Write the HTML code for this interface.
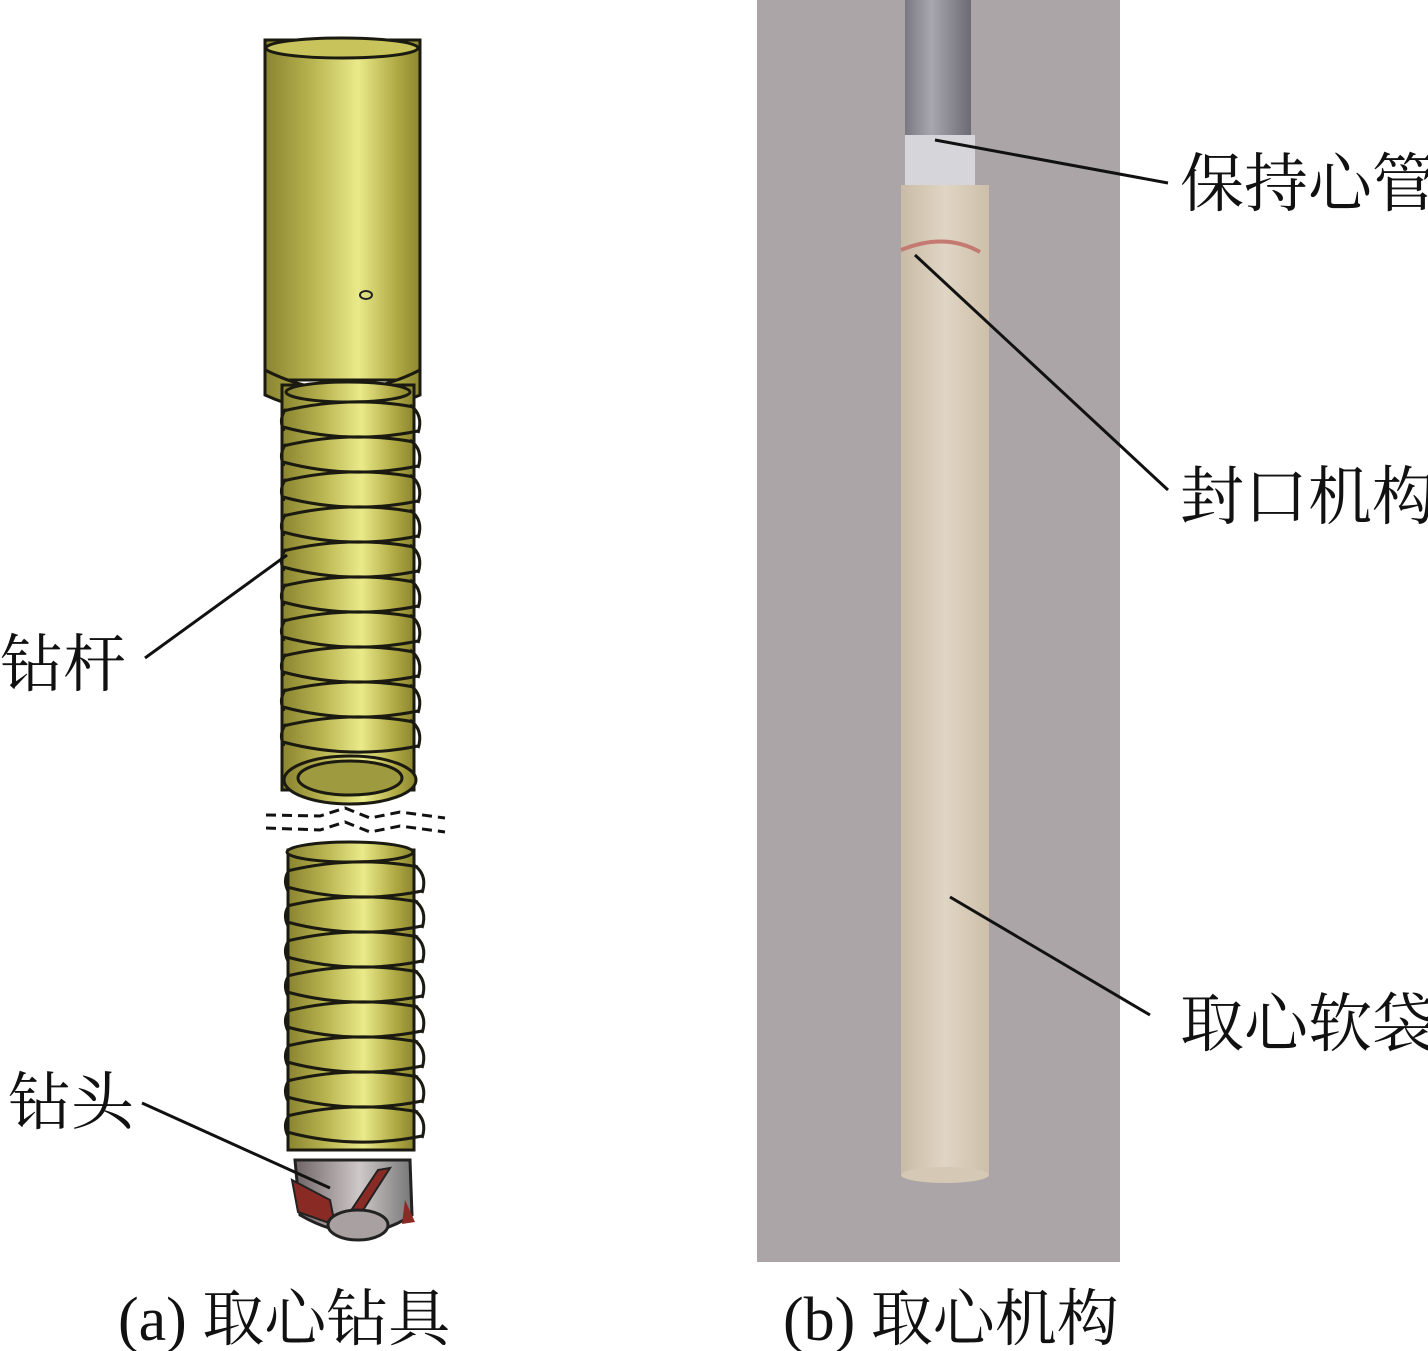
<!DOCTYPE html>
<html><head><meta charset="utf-8"><style>
html,body{margin:0;padding:0;background:#fff;}
svg{display:block}
text{font-family:"Liberation Serif","Noto Serif CJK SC",serif;fill:#111}
</style></head><body>
<svg width="1428" height="1351" viewBox="0 0 1428 1351" xmlns="http://www.w3.org/2000/svg">
<defs>
<linearGradient id="y" x1="0" x2="1" y1="0" y2="0">
<stop offset="0" stop-color="#8a8430"/><stop offset="0.3" stop-color="#b8b450"/><stop offset="0.6" stop-color="#eaea8a"/><stop offset="0.85" stop-color="#b0aa44"/><stop offset="1" stop-color="#8c8630"/>
</linearGradient>
<linearGradient id="g" x1="0" x2="1"><stop offset="0" stop-color="#6e6466"/><stop offset="0.55" stop-color="#cfc8c8"/><stop offset="1" stop-color="#777"/></linearGradient>
<linearGradient id="tube" x1="0" x2="1"><stop offset="0" stop-color="#c9bba6"/><stop offset="0.5" stop-color="#e0d5c4"/><stop offset="1" stop-color="#cdbfa9"/></linearGradient>
<linearGradient id="rod" x1="0" x2="1"><stop offset="0" stop-color="#7a7880"/><stop offset="0.4" stop-color="#a8a6ae"/><stop offset="1" stop-color="#6c6a72"/></linearGradient>
<g id="th" fill="none" stroke="#1a1a10" stroke-width="3">
<path d="M283 -4 Q350 -20 414 -8"/>
<path d="M283 12 Q350 30 418 16"/>
<path d="M410 -10 q14 10 8 28" />
<path d="M286 -6 q-8 10 -2 22"/>
</g>
</defs>
<rect x="265" y="40" width="155" height="340" fill="url(#y)" stroke="#1a1a10" stroke-width="3"/>
<ellipse cx="342" cy="48" rx="76" ry="10" fill="#c8c35a" stroke="#1a1a10" stroke-width="3"/>
<ellipse cx="366" cy="295" rx="6" ry="4" fill="none" stroke="#222" stroke-width="2"/>
<path d="M265 370 Q342 410 420 370 L420 395 Q342 430 265 395 Z" fill="url(#y)" stroke="#1a1a10" stroke-width="3"/>
<rect x="282" y="385" width="132" height="405" fill="url(#y)" stroke="#1a1a10" stroke-width="3"/>
<ellipse cx="348" cy="392" rx="62" ry="10" fill="url(#y)" stroke="#1a1a10" stroke-width="3"/>
<use href="#th" y="415"/><use href="#th" y="450"/><use href="#th" y="485"/><use href="#th" y="520"/><use href="#th" y="555"/><use href="#th" y="590"/><use href="#th" y="625"/><use href="#th" y="660"/><use href="#th" y="695"/><use href="#th" y="730"/>
<ellipse cx="350" cy="780" rx="66" ry="24" fill="url(#y)" stroke="#1a1a10" stroke-width="3"/>
<ellipse cx="350" cy="778" rx="52" ry="17" fill="#9e9a40" stroke="#1a1a10" stroke-width="3"/>
<g stroke="#111" stroke-width="3" stroke-dasharray="10 6" fill="none">
<path d="M266 815 L320 816 L345 808 L370 818 L400 812 L445 818"/>
<path d="M266 828 L320 830 L345 822 L370 832 L400 826 L445 832"/>
</g>
<rect x="288" y="850" width="126" height="300" fill="url(#y)" stroke="#1a1a10" stroke-width="3"/>
<ellipse cx="350" cy="852" rx="63" ry="10" fill="url(#y)" stroke="#1a1a10" stroke-width="3"/>
<use href="#th" x="4" y="875"/><use href="#th" x="4" y="910"/><use href="#th" x="4" y="945"/><use href="#th" x="4" y="980"/><use href="#th" x="4" y="1015"/><use href="#th" x="4" y="1050"/><use href="#th" x="4" y="1085"/><use href="#th" x="4" y="1120"/>
<path d="M295 1160 L410 1160 L412 1215 Q360 1250 300 1215 Z" fill="url(#g)" stroke="#222" stroke-width="3"/>
<path d="M292 1180 L330 1200 L335 1225 L298 1212 Z" fill="#8a2a24" stroke="#222" stroke-width="2"/>
<path d="M378 1170 L390 1168 L360 1215 L350 1212 Z" fill="#8a2a24" stroke="#222" stroke-width="2"/>
<path d="M405 1200 L415 1222 L402 1224 Z" fill="#8a2a24"/>
<ellipse cx="358" cy="1225" rx="30" ry="15" fill="#a9a1a1" stroke="#222" stroke-width="3"/>
<g stroke="#111" stroke-width="3">
<line x1="145" y1="658" x2="287" y2="555"/>
<line x1="142" y1="1103" x2="330" y2="1188"/>
</g>
<text x="0" y="686" font-size="63">钻杆</text>
<text x="8" y="1124" font-size="63">钻头</text>
<rect x="757" y="0" width="363" height="1262" fill="#aba5a7"/>
<rect x="905" y="0" width="66" height="140" fill="url(#rod)"/>
<rect x="905" y="135" width="70" height="50" fill="#d6d6da"/>
<rect x="901" y="185" width="88" height="990" fill="url(#tube)"/>
<path d="M901 250 Q945 232 980 252" stroke="#c47a70" stroke-width="4" fill="none"/>
<ellipse cx="945" cy="1175" rx="44" ry="8" fill="#d5c8b5"/>
<g stroke="#111" stroke-width="3">
<line x1="935" y1="140" x2="1168" y2="183"/>
<line x1="915" y1="255" x2="1168" y2="490"/>
<line x1="950" y1="897" x2="1150" y2="1015"/>
</g>
<text x="1180" y="206" font-size="64">保持心管</text>
<text x="1180" y="519" font-size="64">封口机构</text>
<text x="1180" y="1046" font-size="64">取心软袋</text>
<text x="118" y="1340" font-size="62">(a) 取心钻具</text>
<text x="783" y="1340" font-size="62">(b) 取心机构</text>
</svg>
</body></html>
